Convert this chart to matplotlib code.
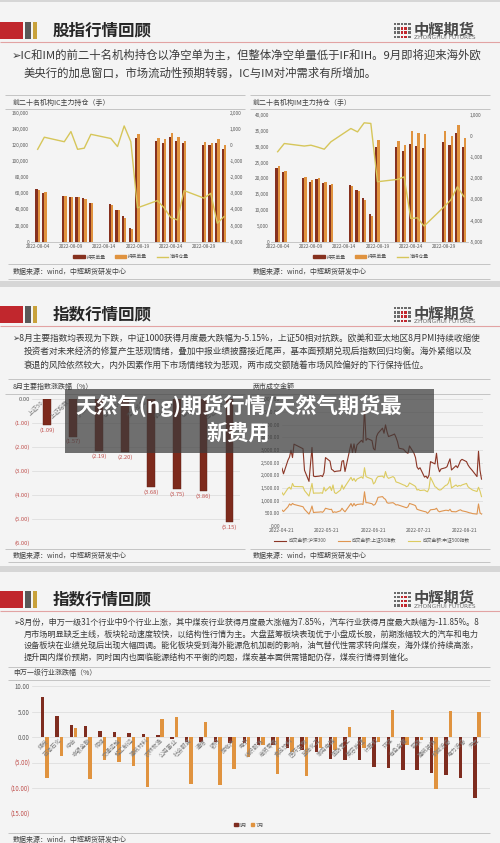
import numpy as np
import pandas as pd
import matplotlib
matplotlib.use("Agg")
import matplotlib.pyplot as plt
from matplotlib.patches import Rectangle
from matplotlib.lines import Line2D
from matplotlib.ticker import FuncFormatter

plt.rcParams['font.family'] = ['Noto Sans CJK SC', 'DejaVu Sans']

W, H = 500, 843

# ---- 第1页：前二十名机构 IC / IM 主力持仓（手） ----
hold_days = ['2022-08-04', '2022-08-05', '2022-08-08', '2022-08-09', '2022-08-10',
             '2022-08-11', '2022-08-12', '2022-08-15', '2022-08-16', '2022-08-17',
             '2022-08-18', '2022-08-19', '2022-08-22', '2022-08-23', '2022-08-24',
             '2022-08-25', '2022-08-26', '2022-08-29', '2022-08-30', '2022-08-31',
             '2022-09-01']
ic_buy = [65000, 61000, 57000, 56000, 55500, 54000, 48000, 46500, 39500, 31500, 17000,
          129000, 125000, 123000, 130000, 125000, 123000, 120000, 119500, 123000, 115000]
ic_sell = [64000, 62000, 57000, 56000, 55500, 53000, 48000, 45500, 39000, 30000, 16000,
           133000, 129000, 127000, 135000, 130000, 125500, 123500, 122500, 127500, 120000]
ic_net = [-270, 480, 200, 830, -270, -200, 660, 400, -100, 1180, 200,
          -3900, -3450, -3900, -4500, -4650, -2830, -3300, -3000, -4860, -4440]
im_buy = [23400, 22000, 20000, 18900, 19700, 18400, 17800, 17900, 16300, 13800, 8700,
          30000, 29800, 28600, 31000, 30200, 29600, 31600, 30500, 34300, 29800]
im_sell = [24000, 22400, 20400, 19400, 20000, 19000, 18100, 17600, 16100, 13200, 8100,
           32100, 31700, 30400, 35000, 34200, 34000, 35000, 33400, 36800, 32600]
im_net = [-740, -350, -470, -430, -520, -620, -270, 360, 200, 630, 600,
          -2160, -2050, -1930, -3900, -3870, -4260, -3350, -3030, -2400, -2870]
hold_ticks = ['2022-08-04', '2022-08-09', '2022-08-14', '2022-08-19', '2022-08-24', '2022-08-29']

# ---- 第2页：8月主要指数涨跌幅 / 两市成交金额 ----
idx_names = ['上证50', '上证指数', '沪深300', '中证800', '深证成指', '创业板指', '中证500', '中证1000']
idx_chg = [-1.09, -1.57, -2.19, -2.20, -3.68, -3.75, -3.86, -5.15]

turn_holidays = ['2022-05-02', '2022-05-03', '2022-05-04', '2022-06-03']
turn_hs300 = [2280, 2060, 2600, 2720, 2990, 2700, 3230,
              3050, 2200, 1760, 2450, 3100, 1970, 1950, 1970, 1990, 1950, 2100, 2700,
              2560, 2240, 2200, 2140, 2160, 2180, 2560,
              2580, 2150, 3240, 2900, 3240, 2900, 3200, 3380, 3300, 4650, 3380, 3450,
              3370, 3050, 3000, 3530, 3660, 3860, 3660, 3990, 3720,
              3530, 3600, 3630, 3500, 3330, 3070, 3030, 2960, 2900, 2870, 3160, 2870,
              2700, 2330, 2240, 2300, 1930, 1970, 1880, 2010, 2540,
              2450, 2870, 2340, 2140, 2250, 2300, 2340, 2500, 2650, 2210, 2380, 2300,
              2430, 2580, 2630, 2540, 2410, 2320, 2250, 2180, 1950, 2950, 2200,
              1850]
turn_sz50 = [630, 570, 760, 870, 820, 890, 850,
             760, 660, 470, 600, 790, 530, 540, 550, 560, 540, 600, 700,
             650, 660, 530, 560, 540, 600, 700,
             620, 560, 890, 780, 890, 800, 850, 870, 850, 1350, 920, 920,
             880, 820, 850, 960, 1130, 1160, 1090, 1050, 920,
             900, 920, 880, 830, 840, 820, 760, 740, 720, 760, 890, 830,
             800, 660, 640, 620, 570, 560, 500, 560, 640,
             660, 700, 600, 560, 580, 620, 620, 600, 660, 570, 560, 590,
             620, 640, 600, 560, 540, 520, 510, 490, 470, 870, 520,
             470]
turn_zz500 = [1320, 1220, 1490, 1530, 1450, 1680, 1560,
              1550, 1400, 1180, 1420, 1680, 1290, 1300, 1300, 1310, 1290, 1530, 1380,
              1560, 1400, 1620, 1320, 1280, 1420, 1620,
              1450, 1560, 1920, 1790, 1880, 1760, 1850, 1940, 1880, 2300, 1950, 1920,
              1850, 1660, 1720, 1880, 1950, 1970, 1900, 2150, 1950,
              1880, 1950, 1900, 1740, 1720, 1700, 1620, 1600, 1550, 1580, 1700, 1600,
              1560, 1420, 1440, 1400, 1420, 1380, 1350, 1480, 1920,
              1550, 1520, 1450, 1420, 1430, 1600, 1620, 1700, 1910, 1500, 1620, 1560,
              1600, 1580, 1620, 1680, 1550, 1500, 1460, 1420, 1360, 1530, 1380,
              1160]
turn_ticks = ['2022-04-21', '2022-05-21', '2022-06-21', '2022-07-21', '2022-08-21']

# ---- 第3页：申万一级行业涨跌幅（%） ----
sw_names = ['煤炭', '石油石化', '综合', '非银金融', '传媒', '交通运输', '轻工制造', '建筑材料',
            '农林牧渔', '公用事业', '社会服务', '通信', '银行', '房地产', '电子', '纺织服饰',
            '商贸零售', '食品饮料', '医药生物', '基础化工', '家用电器', '国防军工', '美容护理',
            '计算机', '环保', '有色金属', '钢铁', '建筑装饰', '机械设备', '电力设备', '汽车']
sw_aug = [7.85, 4.2, 2.4, 2.2, 1.2, 1.1, 0.8, 0.7, 0.5, -0.4, -1.0, -1.0, -1.0, -1.1, -1.1,
          -1.5, -1.5, -2.2, -2.5, -2.8, -4.2, -4.4, -4.5, -5.8, -6.1, -6.4, -6.4, -6.9,
          -7.4, -7.9, -11.85]
sw_jul = [-7.9, -3.7, 1.8, -8.1, -4.4, -4.8, -5.6, -9.7, 3.5, 4.0, -9.2, 3.0, -9.3, -6.3,
          -3.8, -1.5, -7.1, -2.8, -7.5, -2.2, -2.5, 2.0, -2.2, -1.0, 5.4, -1.6, -0.5,
          -10.1, 5.2, 0.1, 5.0]

C_DARK = '#86311f'
C_ORANGE = '#e0933f'
C_YELLOW = '#d6c65a'
C_GRID = '#d9d9d9'
C_TICK = '#595959'
C_RED = '#c0504d'
C_LINE = '#c4c4c4'

fig = plt.figure(figsize=(W / 100, H / 100), dpi=100)
fig.patch.set_facecolor('#d6d6d6')

bg = fig.add_axes([0, 0, 1, 1])
bg.set_xlim(0, W)
bg.set_ylim(H, 0)
bg.axis('off')
renderer = fig.canvas.get_renderer()


def px_axes(x0, y0, x1, y1):
    ax = fig.add_axes([x0 / W, 1 - y1 / H, (x1 - x0) / W, (y1 - y0) / H])
    ax.set_facecolor('none')
    for s in ax.spines.values():
        s.set_visible(False)
    ax.tick_params(length=0, colors=C_TICK, labelsize=3.4, pad=1.5)
    return ax


def fit_text(x0, x1, y, s, size, **kw):
    """文字列の幅を x0..x1 に合わせてフォントサイズを決める"""
    t = bg.text(x0, y, s, fontsize=size, va='center', ha='left', **kw)
    w = t.get_window_extent(renderer=renderer).width
    t.set_fontsize(size * (x1 - x0) / w)
    return t.get_fontsize()


def hline(y, x0, x1, color=C_LINE, lw=0.7):
    bg.plot([x0, x1], [y, y], color=color, lw=lw, solid_capstyle='butt')


def slide_header(o, title):
    bg.add_patch(Rectangle((0, 22 + o), 23, 17, color='#c1272d', lw=0))
    bg.add_patch(Rectangle((24.5, 22 + o), 6.5, 17, color='#595959', lw=0))
    bg.add_patch(Rectangle((33, 22 + o), 3.5, 17, color='#c9a23b', lw=0))
    fit_text(53, 152, 30.5 + o, title, 12, color='#262626', fontweight='bold')
    hline(42 + o, 0, W, color='#e2a3a3', lw=0.8)
    # 中辉期货 logo
    for c in range(5):
        for r in range(4):
            col = '#c1272d' if c in (2, 3) and r > 0 else '#6b6b6b'
            bg.add_patch(Rectangle((393.5 + c * 3.6, 23 + o + r * 4.2), 2.6, 2.4,
                                   color=col, lw=0))
    fit_text(414, 475, 29.5 + o, '中辉期货', 10, color='#4a4a4a', fontweight='bold')
    fit_text(414, 474, 37.8 + o, 'ZHONGHUI FUTURES', 3, color='#6b6b6b',
             family=['DejaVu Sans'])


# slides
for top in [2, 287, 572]:
    bg.add_patch(Rectangle((0, top), W, 279, color='#f4f4f4', lw=0))

# ======================= 第1页 =======================
slide_header(0, '股指行情回顾')
fs = fit_text(12, 483, 55, '➢IC和IM的前二十名机构持仓以净空单为主，但整体净空单量低于IF和IH。9月即将迎来海外欧',
              8, color='#3a3a3a')
bg.text(24, 73, '美央行的加息窗口，市场流动性预期转弱，IC与IM对冲需求有所增加。', fontsize=fs,
        va='center', color='#3a3a3a')

for x0, x1 in [(5, 245), (250, 490)]:
    hline(94.5, x0, x1)
    hline(108.5, x0, x1)
hline(264, 8, 490)
hline(279, 8, 490)

hx = (pd.to_datetime(hold_days) - pd.Timestamp('2022-08-04')).days.values
tick_x = (pd.to_datetime(hold_ticks) - pd.Timestamp('2022-08-04')).days.values


def hold_chart(rect, title, title_x, buy, sell, net, ymax, ystep, rmin, rmax, rstep, leg_x):
    ax = px_axes(*rect)
    ax.bar(hx - 0.17, buy, width=0.34, color=C_DARK)
    ax.bar(hx + 0.17, sell, width=0.34, color=C_ORANGE)
    ax.set_xlim(-1, 28.6)
    ax.set_ylim(0, ymax)
    ax.set_yticks(np.arange(0, ymax + 1, ystep))
    ax.yaxis.set_major_formatter(FuncFormatter(lambda v, p: f'{v:,.0f}'))
    ax.set_xticks(tick_x)
    ax.set_xticklabels(hold_ticks)
    ax.spines['bottom'].set_visible(True)
    ax.spines['bottom'].set_color('#bfbfbf')
    ax.spines['bottom'].set_linewidth(0.6)
    ax2 = ax.twinx()
    ax2.set_facecolor('none')
    for s in ax2.spines.values():
        s.set_visible(False)
    ax2.plot(hx, net, color=C_YELLOW, lw=1.0)
    ax2.set_ylim(rmin, rmax)
    ax2.set_yticks(np.arange(rmin, rmax + 1, rstep))
    ax2.yaxis.set_major_formatter(FuncFormatter(lambda v, p: f'{v:,.0f}'))
    ax2.tick_params(length=0, colors=C_TICK, labelsize=3.4, pad=1.5)
    handles = [Rectangle((0, 0), 1, 1, color=C_DARK), Rectangle((0, 0), 1, 1, color=C_ORANGE),
               Line2D([], [], color=C_YELLOW, lw=1.0)]
    ax2.legend(handles, ['持买单量', '持卖单量', '净持仓量'], loc='center',
               bbox_to_anchor=(leg_x / W, 1 - 256.7 / H), bbox_transform=fig.transFigure,
               ncol=3, frameon=False, fontsize=3.4, handlelength=2.4, handleheight=0.7,
               columnspacing=2.0, handletextpad=0.4, labelcolor=C_TICK)
    bg.text(title_x, 102.5, title, fontsize=5, va='center', color='#404040')


hold_chart((31, 112.7, 228, 241.7), '前二十名机构IC主力持仓（手）', 13,
           ic_buy, ic_sell, ic_net, 160000, 20000, -6000, 2000, 1000, 131)
hold_chart((271, 115, 468, 241.7), '前二十名机构IM主力持仓（手）', 253,
           im_buy, im_sell, im_net, 40000, 5000, -5000, 1000, 1000, 371)
bg.text(13, 271.5, '数据来源：wind，中辉期货研发中心', fontsize=5, va='center', color='#404040')
bg.text(253, 271.5, '数据来源：wind，中辉期货研发中心', fontsize=5, va='center', color='#404040')

# ======================= 第2页 =======================
o2 = 284
slide_header(o2, '指数行情回顾')
fs = fit_text(12, 485, 338.3, '➢8月主要指数均表现为下跌，中证1000获得月度最大跌幅为-5.15%，上证50相对抗跌。欧美和亚太地区8月PMI持续收缩使',
              6, color='#3a3a3a')
bg.text(24, 352, '投资者对未来经济的修复产生悲观情绪，叠加中报业绩披露接近尾声，基本面预期兑现后指数回归均衡。海外紧缩以及',
        fontsize=fs, va='center', color='#3a3a3a')
bg.text(24, 365.7, '衰退的风险依然较大，内外因素作用下市场情绪较为悲观，两市成交额随着市场风险偏好的下行保持低位。',
        fontsize=fs, va='center', color='#3a3a3a')

hline(379, 8, 490)
for x0, x1 in [(5, 245), (250, 490)]:
    hline(394, x0, x1)
    hline(549, x0, x1)
hline(562, 8, 490)
bg.text(13, 386.7, '8月主要指数涨跌幅（%）', fontsize=5, va='center', color='#404040')
bg.text(253, 386.7, '两市成交金额', fontsize=5, va='center', color='#404040')
bg.text(13, 555.5, '数据来源：wind，中辉期货研发中心', fontsize=5, va='center', color='#404040')
bg.text(253, 555.5, '数据来源：wind，中辉期货研发中心', fontsize=5, va='center', color='#404040')

ax = px_axes(32, 399, 240, 542.7)
xi = np.arange(len(idx_names))
ax.bar(xi, idx_chg, width=0.3, color='#7d2a1c', edgecolor='#5e1d13', lw=0.3, zorder=3)
ax.set_xlim(-0.57, 7.4)
ax.set_ylim(-6, 0)
yt = np.arange(0, -7, -1)
ax.set_yticks(yt)
ax.set_yticklabels(['0.00'] + [f'({abs(v):.2f})' for v in yt[1:]], fontsize=4.2)
for lbl in ax.get_yticklabels()[1:]:
    lbl.set_color(C_RED)
ax.set_xticks([])
ax.yaxis.grid(True, color=C_GRID, lw=0.5)
ax.set_axisbelow(True)
for i, (n, v) in enumerate(zip(idx_names, idx_chg)):
    ax.text(i, v - 0.1, f'({abs(v):.2f})', ha='center', va='top', fontsize=4.2, color=C_RED)
    ax.text(i - 0.2, -0.06, n, rotation=45, rotation_mode='anchor', ha='right', va='center',
            fontsize=4.3, color='#7f7f7f', zorder=4)

ax = px_axes(282, 399.3, 483, 526)
tdates = pd.bdate_range('2022-04-21', '2022-09-01')
tdates = tdates[~tdates.isin(pd.to_datetime(turn_holidays))]
ax.plot(tdates, turn_hs300, color='#8b3525', lw=0.8)
ax.plot(tdates, turn_sz50, color='#df9550', lw=0.8)
ax.plot(tdates, turn_zz500, color='#dccb60', lw=0.8)
ax.set_xlim(pd.Timestamp('2022-04-21'), pd.Timestamp('2022-09-02'))
ax.set_ylim(0, 5000)
ax.set_yticks(np.arange(0, 5001, 500))
ax.yaxis.set_major_formatter(FuncFormatter(lambda v, p: f'{v:,.2f}'))
ax.set_xticks(pd.to_datetime(turn_ticks))
ax.set_xticklabels(turn_ticks)
ax.tick_params(labelsize=3.6)
ax.yaxis.grid(True, color=C_GRID, lw=0.5)
ax.set_axisbelow(True)
ax.legend([Line2D([], [], color='#8b3525', lw=0.8), Line2D([], [], color='#df9550', lw=0.8),
           Line2D([], [], color='#dccb60', lw=0.8)],
          ['成交金额:沪深300', '成交金额:上证50指数', '成交金额:中证500指数'],
          loc='center', bbox_to_anchor=(372 / W, 1 - 541 / H), bbox_transform=fig.transFigure,
          ncol=3, frameon=False, fontsize=3.4, handlelength=2.5, columnspacing=2.5,
          handletextpad=0.5, labelcolor=C_TICK)

# ======================= 第3页 =======================
o3 = 568.5
slide_header(o3, '指数行情回顾')
fs = fit_text(13, 482, 622.3, '➢8月份，申万一级31个行业中9个行业上涨，其中煤炭行业获得月度最大涨幅为7.85%，汽车行业获得月度最大跌幅为-11.85%。8',
              6, color='#3a3a3a')
for k, s in enumerate(['月市场明显缺乏主线，板块轮动速度较快，以结构性行情为主。大盘蓝筹板块表现优于小盘成长股，前期涨幅较大的汽车和电力',
                       '设备板块在业绩兑现后出现大幅回调。能化板块受到海外能源危机加剧的影响，油气替代性需求转向煤炭，海外煤价持续高涨，',
                       '提升国内煤价预期，同时国内也面临能源结构不平衡的问题，煤炭基本面供需错配仍存，煤炭行情得到催化。']):
    bg.text(24, 634 + 11.7 * k, s, fontsize=fs, va='center', color='#3a3a3a')

hline(666.7, 8, 490)
hline(679.5, 8, 490)
hline(833, 8, 490)
bg.text(13, 673, '申万一级行业涨跌幅（%）', fontsize=5, va='center', color='#404040')
bg.text(13, 839.5, '数据来源：wind，中辉期货研发中心', fontsize=5, va='center', color='#404040')

ax = px_axes(32, 686, 490, 814)
ci = np.arange(len(sw_names))
ax.bar(ci - 0.15, sw_aug, width=0.24, color='#7e2c1f', zorder=3)
ax.bar(ci + 0.15, sw_jul, width=0.24, color=C_ORANGE, zorder=3)
ax.set_xlim(-0.88, 30.9)
ax.set_ylim(-15, 10)
yt = [10, 5, 0, -5, -10, -15]
ax.set_yticks(yt)
ax.set_yticklabels([f'{v:.2f}' if v >= 0 else f'({abs(v):.2f})' for v in yt], fontsize=4.4)
for lbl, v in zip(ax.get_yticklabels(), yt):
    if v < 0:
        lbl.set_color(C_RED)
ax.set_xticks([])
ax.yaxis.grid(True, color=C_GRID, lw=0.5)
ax.set_axisbelow(True)
for i, n in enumerate(sw_names):
    ax.text(i + 0.15, -0.45, n, rotation=45, rotation_mode='anchor', ha='right', va='center',
            fontsize=4.2, color='#7f7f7f', zorder=4)
ax.legend([Rectangle((0, 0), 1, 1, color='#7e2c1f'), Rectangle((0, 0), 1, 1, color=C_ORANGE)],
          ['8月', '7月'], loc='center', bbox_to_anchor=(249 / W, 1 - 825 / H),
          bbox_transform=fig.transFigure, ncol=2, frameon=False, fontsize=3.8,
          handlelength=0.6, handleheight=0.6, handletextpad=0.2, columnspacing=0.8,
          labelcolor=C_TICK)

# ======================= 标题遮罩 =======================
top = fig.add_axes([0, 0, 1, 1], zorder=10)
top.set_xlim(0, W)
top.set_ylim(H, 0)
top.axis('off')
top.patch.set_alpha(0)
top.add_patch(Rectangle((65, 389), 369, 64, color='#3c3c3c', alpha=0.72, lw=0))
t1 = top.text(238.5, 406, '天然气(ng)期货行情/天然气期货最', ha='center', va='center',
              fontsize=15, color='white', fontweight='bold')
w1 = t1.get_window_extent(renderer=renderer).width
t1.set_fontsize(15 * 327 / w1)
top.text(238.5, 433, '新费用', ha='center', va='center', fontsize=t1.get_fontsize(),
         color='white', fontweight='bold')

fig.savefig('out.png', dpi=100, facecolor=fig.get_facecolor())
